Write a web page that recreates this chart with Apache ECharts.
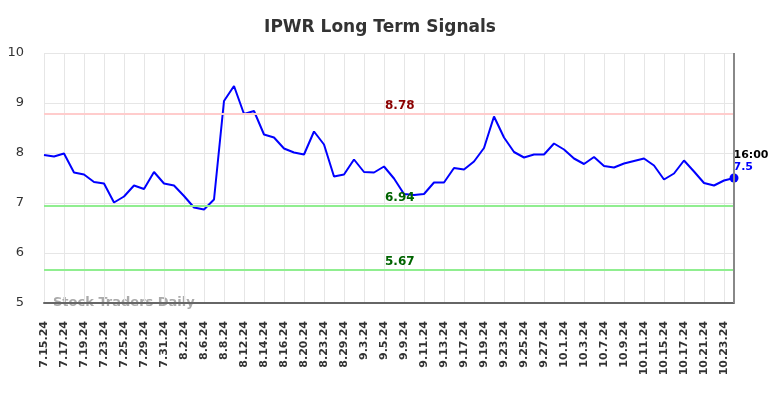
<!DOCTYPE html>
<html>
<head>
<meta charset="utf-8">
<title>IPWR Long Term Signals</title>
<script src="https://cdn.jsdelivr.net/npm/echarts@6/dist/echarts.min.js"></script>
<style>
  body { margin: 0; background: #fff; }
  #main { width: 784px; height: 398px; }
</style>
</head>
<body>
<div id="main"></div>
<script>
var dates = ['7.15.24','7.16.24','7.17.24','7.18.24','7.19.24','7.22.24','7.23.24','7.24.24','7.25.24','7.26.24',
  '7.29.24','7.30.24','7.31.24','8.1.24','8.2.24','8.5.24','8.6.24','8.7.24','8.8.24','8.9.24',
  '8.12.24','8.13.24','8.14.24','8.15.24','8.16.24','8.19.24','8.20.24','8.21.24','8.23.24','8.26.24',
  '8.29.24','8.30.24','9.3.24','9.4.24','9.5.24','9.6.24','9.9.24','9.10.24','9.11.24','9.12.24',
  '9.13.24','9.16.24','9.17.24','9.18.24','9.19.24','9.20.24','9.23.24','9.24.24','9.25.24','9.26.24',
  '9.27.24','9.30.24','10.1.24','10.2.24','10.3.24','10.4.24','10.7.24','10.8.24','10.9.24','10.10.24',
  '10.11.24','10.14.24','10.15.24','10.16.24','10.17.24','10.18.24','10.21.24','10.22.24','10.23.24','10.24.24'];
var signal = [7.96,7.93,7.99,7.61,7.57,7.42,7.39,7.01,7.13,7.35,
  7.28,7.62,7.39,7.35,7.14,6.91,6.87,7.07,9.04,9.34,
  8.78,8.84,8.37,8.31,8.09,8.01,7.97,8.43,8.17,7.53,
  7.57,7.87,7.62,7.61,7.73,7.49,7.18,7.16,7.18,7.41,
  7.41,7.70,7.67,7.83,8.10,8.73,8.31,8.02,7.91,7.97,
  7.97,8.19,8.07,7.89,7.78,7.92,7.74,7.71,7.79,7.84,
  7.89,7.75,7.47,7.59,7.85,7.63,7.40,7.35,7.45,7.50];
var resistance = 8.78;
var supports = [6.94, 5.67];
var lastTime = '16:00';

var lastIdx = signal.length - 1;
var myChart = echarts.init(document.getElementById('main'));
var option = {
  animation: false,
  title: {
    text: 'IPWR Long Term Signals',
    left: 375,
    top: 14,
    textAlign: 'center',
    textStyle: { fontFamily: 'DejaVu Sans', fontSize: 17, fontWeight: 'bold', color: '#333' }
  },
  grid: { left: 44, right: 50, top: 53, bottom: 95 },
  xAxis: {
    type: 'category',
    boundaryGap: false,
    data: dates,
    axisLine: { lineStyle: { color: '#666', width: 2 } },
    axisTick: { show: false },
    axisLabel: {
      interval: 1, rotate: 90, margin: 18,
      fontFamily: 'DejaVu Sans', fontSize: 11, fontWeight: 'bold', color: '#333'
    },
    splitLine: { show: true, interval: 1, lineStyle: { color: '#e6e6e6' } }
  },
  yAxis: {
    type: 'value',
    min: 5, max: 10, interval: 1,
    axisLine: { show: false },
    axisTick: { show: false },
    axisLabel: { margin: 20, fontFamily: 'DejaVu Sans', fontSize: 13, color: '#333' },
    splitLine: { lineStyle: { color: '#e6e6e6' } }
  },
  graphic: [{
    type: 'text', left: 53, top: 296,
    style: { text: 'Stock Traders Daily', fontFamily: 'DejaVu Sans', fontSize: 13, fontWeight: 'bold', fill: '#aaa' }
  }],
  series: [{
    type: 'line',
    data: signal,
    showSymbol: false,
    lineStyle: { color: '#0000ff', width: 2 },
    itemStyle: { color: '#0000ff' },
    markLine: {
      silent: true,
      symbol: 'none',
      data: [
        { yAxis: resistance, lineStyle: { color: '#ffcccc', width: 2, type: 'solid' },
          label: { color: '#8b0000' } },
        { yAxis: supports[0], lineStyle: { color: '#90ee90', width: 2, type: 'solid' },
          label: { color: '#006400' } },
        { yAxis: supports[1], lineStyle: { color: '#90ee90', width: 2, type: 'solid' },
          label: { color: '#006400' } },
        { xAxis: dates[lastIdx], lineStyle: { color: '#888', width: 2, type: 'solid' },
          label: { show: false } }
      ],
      label: {
        position: 'insideStartTop', distance: [341, 2],
        fontFamily: 'DejaVu Sans', fontSize: 12, fontWeight: 'bold',
        formatter: function (p) { return p.value; }
      }
    }
  }, {
    type: 'scatter',
    data: [[dates[lastIdx], signal[lastIdx]]],
    symbolSize: 9,
    itemStyle: { color: '#0000ff', opacity: 1 },
    label: {
      show: true,
      position: [4, -24],
      formatter: function (p) { return '{t|' + lastTime + '}\n{v|' + p.value[1] + '}'; },
      rich: {
        t: { fontFamily: 'DejaVu Sans', fontSize: 11, fontWeight: 'bold', color: '#000', lineHeight: 12 },
        v: { fontFamily: 'DejaVu Sans', fontSize: 11, fontWeight: 'bold', color: '#0000ff', lineHeight: 12 }
      }
    }
  }]
};
myChart.setOption(option);
</script>
</body>
</html>
